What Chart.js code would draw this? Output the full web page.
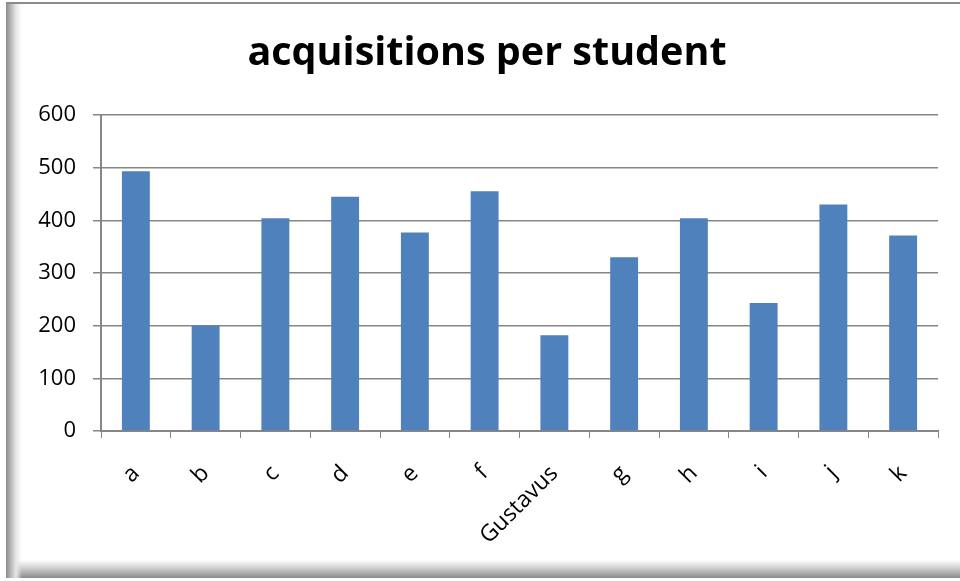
<!DOCTYPE html>
<html>
<head>
<meta charset="utf-8">
<script src="https://cdn.jsdelivr.net/npm/chart.js@4.4.0/dist/chart.umd.min.js"></script>
<style>
    body { margin: 0; background: #fff; }
    #wrap { position: relative; width: 960px; height: 581px; overflow: hidden; }
    #frame {
        position: absolute; left: 6px; top: 2px; width: 954px; height: 574px;
        border-top: 2px solid #8c8c8c;
        background:
            linear-gradient(to right, #8a8a8a 0, #b0b0b0 4px, #e6e6e6 10px, rgba(255,255,255,0) 16px) left top / 16px 100% no-repeat,
            linear-gradient(to bottom, rgba(255,255,255,0) 0, #d0d0d0 8px, #8a8a8a 18px) left bottom / 100% 18px no-repeat,
            #fff;
    }
    #chart { position: absolute; left: 0; top: 0; }
</style>
</head>
<body>
<div id="wrap">
    <div id="frame"></div>
    <canvas id="chart" width="960" height="581"></canvas>
</div>
<script>
let categories = ['a', 'b', 'c', 'd', 'e', 'f', 'Gustavus', 'g', 'h', 'i', 'j', 'k']
let acquisitions = [493, 200, 404, 445, 377, 455, 182, 330, 404, 243, 430, 371]
let yTicks = [0, 100, 200, 300, 400, 500, 600]
let chartTitle = 'acquisitions per student'

// title drawn by hand so it can sit where the original has it
const titlePlugin = {
    id: 'titleText',
    afterDraw(chart) {
        const ctx = chart.ctx;
        ctx.save();
        ctx.fillStyle = '#000';
        ctx.font = 'bold 39.5px "Open Sans"';
        ctx.textAlign = 'center';
        ctx.textBaseline = 'middle';
        ctx.fillText(chartTitle, 487, 54);
        ctx.restore();
    }
};

const data = {
    labels: categories,
    datasets: [{
        label: chartTitle,
        data: acquisitions,
        backgroundColor: '#4f81bd',
        borderWidth: 0,
        categoryPercentage: 1,
        barPercentage: 0.4
    }]
};

const config = {
    type: 'bar',
    data: data,
    plugins: [titlePlugin],
    options: {
        responsive: false,
        animation: false,
        layout: {
            padding: { left: 0, right: 22, top: 115, bottom: 0 }
        },
        plugins: {
            legend: { display: false },
            tooltip: { enabled: false },
            title: { display: false }
        },
        scales: {
            x: {
                offset: true,
                grid: {
                    offset: true,
                    drawOnChartArea: false,
                    color: '#868686',
                    tickLength: 7
                },
                border: { color: '#868686', width: 2 },
                ticks: {
                    color: '#000',
                    font: { family: 'Open Sans', size: 23 },
                    minRotation: 45,
                    maxRotation: 45,
                    padding: 22
                },
                afterFit: function (scale) { scale.height = 150 }
            },
            y: {
                min: 0,
                max: 600,
                afterBuildTicks: function (scale) {
                    scale.ticks = yTicks.map(v => ({ value: v }))
                },
                grid: {
                    color: '#868686',
                    lineWidth: 1.5,
                    tickLength: 8
                },
                border: { color: '#868686', width: 2 },
                ticks: {
                    color: '#000',
                    font: { family: 'Open Sans', size: 22 },
                    padding: 17
                },
                afterFit: function (scale) { scale.width = 101 }
            }
        }
    }
};

let myChart = new Chart(document.getElementById('chart'), config);
</script>
</body>
</html>
